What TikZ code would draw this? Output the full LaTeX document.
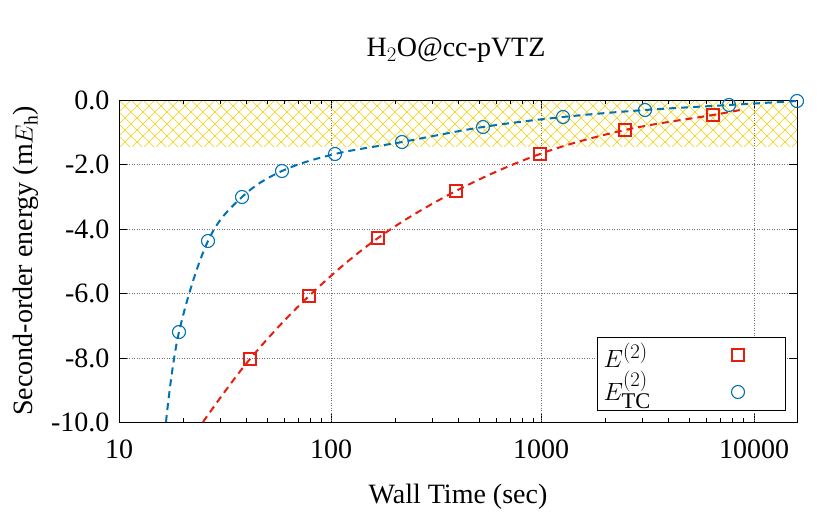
\documentclass[tikz,border=0pt]{standalone}
\usepackage{fontspec}
\setmainfont{Liberation Serif}
\definecolor{bl}{HTML}{0072B2}
\definecolor{rd}{HTML}{E51E10}
\definecolor{gd}{HTML}{F5D000}
\begin{document}
\begin{tikzpicture}[x=1pt,y=-1pt,font=\fontsize{28}{32}\selectfont,
  circ/.style={circle,draw=bl,line width=1.1pt,inner sep=0pt,minimum size=13pt},
  sq/.style={rectangle,draw=rd,line width=1.1pt,inner sep=0pt,minimum size=12pt},
  grd/.style={black!55,dotted,line width=0.5pt},
  crv/.style={dash pattern=on 7pt off 5pt,line width=2pt}]
\useasboundingbox (0,0) rectangle (830,519);
\begin{scope}
\clip (119,100) rectangle (797,146);
\foreach \i in {0,...,60}{
  \draw[gd,line width=0.6pt] (119+\i*12,100) -- ++(-60,60);
  \draw[gd,line width=0.6pt] (59+\i*12,100) -- ++(60,60);}
\end{scope}
\foreach \y/\l in {100/0.0,164/-2.0,229/-4.0,293/-6.0,358/-8.0,422/-10.0}{
  \draw[grd] (119,\y) -- (797,\y);
  \draw (119,\y) -- (127,\y); \draw (797,\y) -- (789,\y);
  \node[anchor=east] (yl\y) at (113,\y) {\l};}
\foreach \x/\l in {119/10,331/100,541/1000,754/10000}{
  \node[anchor=north] (xl\x) at (\x,436) {\l};
  \draw (\x,422) -- (\x,414); \draw (\x,100) -- (\x,108);}
\foreach \x in {331,541,754}{\draw[grd] (\x,100) -- (\x,422);}
\foreach \d in {119,331,541,754}{
 \foreach \m in {2,...,9}{
  \pgfmathsetmacro\xx{\d+211.7*log10(\m)}
  \ifdim\xx pt<797pt
  \draw (\xx,422) -- (\xx,418); \draw (\xx,100) -- (\xx,104);\fi}}
\draw[thick] (119,100) rectangle (797,422);
\draw[bl,crv] plot[smooth,tension=0.6] coordinates {(166,422)(179,332)(208,241)(242,197)(282,171)(335,154)(402,142)(483,127)(563,117)(645,110)(729,105)(797,101)};
\draw[rd,crv] plot[smooth,tension=0.6] coordinates {(203,422)(250,359)(309,296)(378,238)(456,191)(540,154)(625,130)(713,115)(740,110)};
\foreach \x/\y [count=\i] in {179/332,208/241,242/197,282/171,335/154,402/142,483/127,563/117,645/110,729/105,797/101}
  \node[circ] (c\i) at (\x,\y) {};
\foreach \x/\y [count=\i] in {250/359,309/296,378/238,456/191,540/154,625/130,713/115}
  \node[sq] (s\i) at (\x,\y) {};
\draw[fill=white,thick] (597,337) rectangle (785,410);
\node[anchor=west] (l1) at (600,355) {\fontsize{32}{34}\selectfont$E^{(2)}$};
\node[anchor=west] (l2) at (600,390) {\fontsize{32}{34}\selectfont$E^{(2)}_{\mathrm{TC}}$};
\node[sq] (ls) at (738,355) {};
\node[circ] (lc) at (738,392) {};
\node (title) at (456,50) {H$_2$O@cc-pVTZ};
\node (xt) at (458,497) {Wall Time (sec)};
\node[rotate=90] (yt) at (26,261) {Second-order energy (m$E_{\mathrm h}$)};
\end{tikzpicture}
\end{document}
